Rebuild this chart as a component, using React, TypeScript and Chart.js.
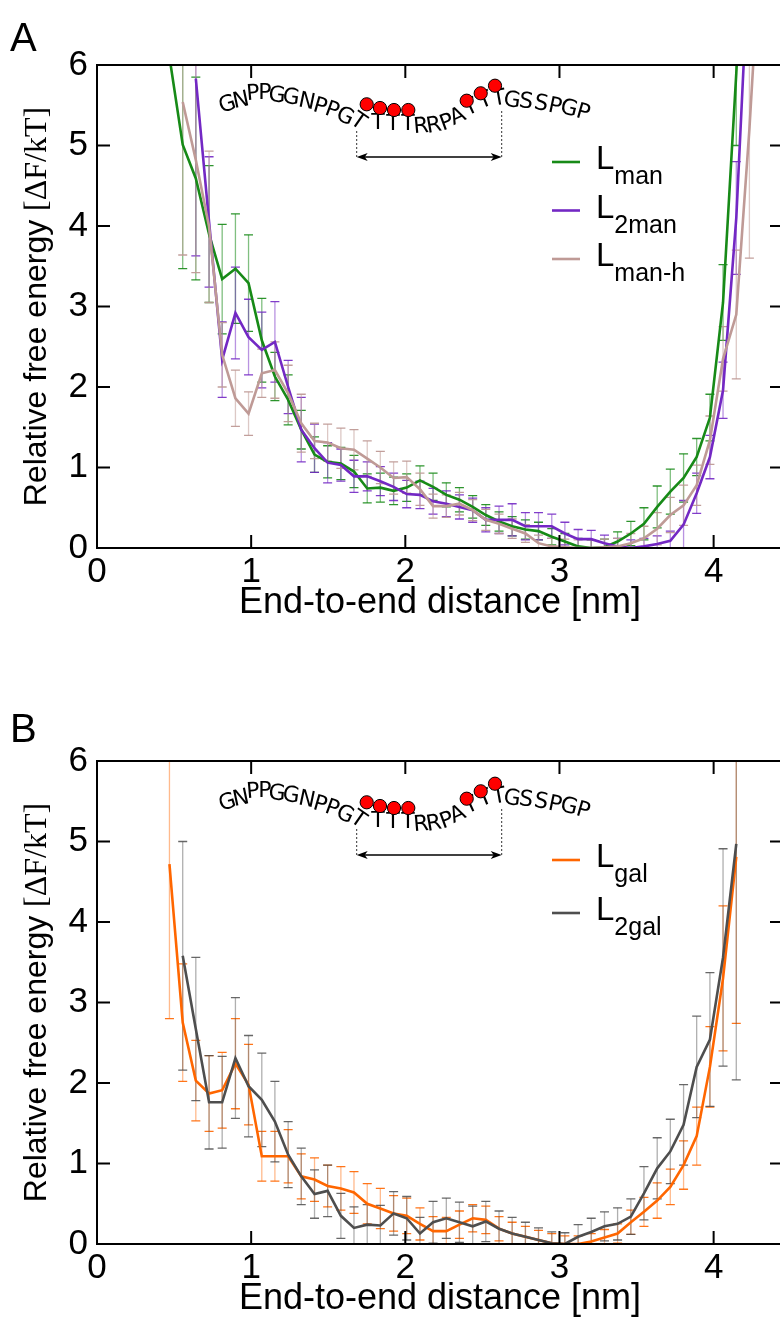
import React, { useEffect, useRef } from "react";
import { Chart, registerables } from "chart.js";

Chart.register(...registerables);

// ---------------- data ----------------
// bin centres of the end-to-end distance histogram [nm]
const distance = [
  0.470, 0.556, 0.641, 0.727, 0.812, 0.898, 0.983, 1.069, 1.154, 1.240,
  1.325, 1.411, 1.496, 1.582, 1.667, 1.753, 1.838, 1.924, 2.009, 2.095,
  2.180, 2.266, 2.351, 2.437, 2.522, 2.608, 2.693, 2.779, 2.864, 2.950,
  3.035, 3.121, 3.206, 3.292, 3.377, 3.463, 3.548, 3.634, 3.719, 3.805,
  3.890, 3.976, 4.061, 4.147, 4.232, 4.318,
];

// Panel A
const manEnergy = [
  6.1, 5.01, 4.59, 3.9, 3.34, 3.47, 3.29, 2.58, 2.13, 1.84,
  1.47, 1.16, 1.07, 1.05, 0.95, 0.74, 0.75, 0.71, 0.75, 0.84,
  0.76, 0.66, 0.60, 0.51, 0.41, 0.33, 0.27, 0.23, 0.21, 0.14,
  0.08, 0.02, 0.0, 0.01, 0.08, 0.18, 0.30, 0.51, 0.70, 0.87,
  1.13, 1.62, 3.05, 5.9, 9.0, null,
];
const manError = [
  null, 1.54, 1.26, 0.85, 0.68, 0.68, 0.6, 0.52, 0.3, 0.31,
  0.24, 0.22, 0.2, 0.2, 0.2, 0.18, 0.18, 0.17, 0.17, 0.18,
  0.17, 0.15, 0.15, 0.14, 0.13, 0.12, 0.12, 0.12, 0.11, 0.1,
  0.1, 0.1, 0.1, 0.1, 0.12, 0.15, 0.2, 0.26, 0.28, 0.3,
  0.23, 0.29, 0.47, 0.9, 1.5, null,
];
const twoManEnergy = [
  null, null, 5.83, 4.05, 2.34, 2.92, 2.62, 2.46, 2.56, 2.0,
  1.47, 1.24, 1.06, 1.03, 0.89, 0.89, 0.83, 0.76, 0.67, 0.66,
  0.58, 0.55, 0.51, 0.47, 0.35, 0.35, 0.35, 0.27, 0.27, 0.27,
  0.18, 0.11, 0.11, 0.06, 0.02, 0.0, 0.02, 0.05, 0.09, 0.29,
  0.68, 1.13, 1.96, 4.1, 7.5, null,
];
const twoManError = [
  null, null, 2.2, 0.81, 0.47, 0.57, 0.47, 0.47, 0.5, 0.33,
  0.4, 0.3, 0.25, 0.2, 0.2, 0.18, 0.18, 0.17, 0.17, 0.17,
  0.16, 0.16, 0.15, 0.15, 0.15, 0.17, 0.2, 0.17, 0.17, 0.15,
  0.14, 0.12, 0.11, 0.1, 0.1, 0.1, 0.1, 0.1, 0.12, 0.3,
  0.25, 0.27, 0.35, 0.7, 1.2, null,
];
const manHEnergy = [
  null, 5.54, 4.82, 3.99, 2.40, 1.86, 1.67, 2.17, 2.21, 1.92,
  1.55, 1.33, 1.31, 1.24, 1.22, 1.11, 1.0, 0.87, 0.88, 0.73,
  0.52, 0.52, 0.55, 0.47, 0.35, 0.30, 0.24, 0.18, 0.06, 0.02,
  0.01, 0.0, 0.0, 0.01, 0.02, 0.06, 0.12, 0.24, 0.41, 0.53,
  0.78, 1.34, 2.35, 2.9, 5.2, 8.0,
];
const manHError = [
  null, 1.9, 1.4, 0.94, 0.4, 0.35, 0.27, 0.3, 0.35, 0.35,
  0.36, 0.22, 0.23, 0.25, 0.25, 0.22, 0.2, 0.2, 0.2, 0.2,
  0.15, 0.14, 0.14, 0.13, 0.13, 0.12, 0.12, 0.11, 0.1, 0.1,
  0.1, 0.1, 0.1, 0.1, 0.1, 0.12, 0.15, 0.2, 0.22, 0.25,
  0.25, 0.3, 0.4, 0.8, 1.6, 2.0,
];

// Panel B
const galEnergy = [
  4.72, 2.75, 2.03, 1.87, 1.91, 2.24, 1.98, 1.09, 1.09, 1.09,
  0.84, 0.80, 0.72, 0.69, 0.64, 0.50, 0.44, 0.38, 0.35, 0.25,
  0.16, 0.16, 0.24, 0.32, 0.30, 0.19, 0.13, 0.09, 0.05, 0.01,
  0.0, 0.0, 0.03, 0.08, 0.13, 0.27, 0.40, 0.54, 0.71, 0.98,
  1.34, 2.2, 3.3, 4.81, null, null,
];
const galError = [
  1.92, 0.73, 0.5, 0.47, 0.47, 0.56, 0.5, 0.31, 0.31, 0.33,
  0.28, 0.27, 0.26, 0.27, 0.26, 0.25, 0.25, 0.22, 0.22, 0.2,
  0.18, 0.17, 0.17, 0.17, 0.17, 0.15, 0.14, 0.13, 0.12, 0.12,
  0.1, 0.1, 0.1, 0.1, 0.12, 0.15, 0.18, 0.22, 0.22, 0.3,
  0.36, 0.5, 0.9, 2.07, null, null,
];
const twoGalEnergy = [
  null, 3.58, 2.67, 1.76, 1.76, 2.31, 1.96, 1.79, 1.52, 1.11,
  0.84, 0.62, 0.66, 0.35, 0.20, 0.24, 0.23, 0.38, 0.32, 0.13,
  0.27, 0.32, 0.27, 0.22, 0.28, 0.19, 0.13, 0.09, 0.05, 0.01,
  0.0, 0.09, 0.15, 0.22, 0.25, 0.34, 0.63, 0.94, 1.15, 1.48,
  2.2, 2.54, 3.56, 4.97, null, null,
];
const twoGalError = [
  null, 1.42, 0.89, 0.58, 0.57, 0.75, 0.63, 0.58, 0.5, 0.41,
  0.35, 0.3, 0.32, 0.28, 0.26, 0.25, 0.25, 0.27, 0.27, 0.2,
  0.26, 0.25, 0.25, 0.25, 0.25, 0.22, 0.2, 0.18, 0.15, 0.14,
  0.14, 0.15, 0.17, 0.18, 0.2, 0.22, 0.33, 0.38, 0.4, 0.5,
  0.63, 0.83, 1.35, 2.93, null, null,
];

const xTickValues = [0, 1, 2, 3, 4];
const yTickValues = [0, 1, 2, 3, 4, 5, 6];
const X_MIN = 0;
const X_MAX = 4.45;
const Y_MIN = 0;
const Y_MAX = 6;

const xAxisTitle = "End-to-end distance [nm]";
const yAxisTitleMain = "Relative free energy";
const yAxisTitleUnit = "[ΔF/kT]";
const peptideSequence = "GNPPGGNPPGTTTTRRPATTTGSSPGP";
const legendMain = "L";
const subscriptsA = ["man", "2man", "man-h"];
const subscriptsB = ["gal", "2gal"];

// ---------------- styling / layout ----------------
const SANS = "'Liberation Sans', Arial, Helvetica, sans-serif";
const SERIF = "'Liberation Serif', 'Times New Roman', serif";
const SEQ_FONT = "'DejaVu Sans', sans-serif";

const CANVAS_W = 786;
const CANVAS_H = 660;

// sequence letter layout relative to the chart area's top-left: [dx, dy, rotation deg]
const seqLayout: [number, number, number][] = [
  [130.5, 40, -18], [144, 36, -12], [156, 29, -5], [168, 28, 0], [180, 31, 5],
  [194, 33, 8], [209.7, 37, 12], [223, 42, 16], [235, 46, 20], [248, 52, 25],
  [261, 57, 35], [281, 58, 0], [296, 59, 0], [311, 59, 0], [324, 62, -5],
  [337, 61, -10], [350, 58, -20], [361, 52, -25], [374, 43, -25], [388, 36, -22],
  [402, 34, -10], [415, 36, 8], [429, 37, 8], [444, 39, 10], [458, 42, 12],
  [472, 44, 14], [486, 48, 16],
];
const sugarLayout: [number, number][] = [
  [269.7, 39.3], [283, 43], [297, 45], [311.3, 45], [369.7, 35.7], [383.7, 28.3], [398, 20.7],
];

function toPoints(values: (number | null)[], errors: (number | null)[]) {
  const pts: { x: number; y: number; err: number }[] = [];
  distance.forEach((x, i) => {
    const y = values[i];
    if (y !== null && y !== undefined) pts.push({ x, y, err: errors[i] ?? 0 });
  });
  return pts;
}

function makeDataset(label: string, sub: string, values: any, errors: any, color: string, errColor: string, capColor: string, order: number) {
  return {
    label,
    sub,
    data: toPoints(values, errors),
    borderColor: color,
    backgroundColor: color,
    borderWidth: 2.6,
    pointRadius: 0,
    tension: 0,
    fill: false,
    errColor,
    capColor,
    order,
  } as any;
}

const decorPlugin = {
  id: "decor",
  beforeDatasetsDraw(chart: any) {
    const { ctx, chartArea: a, scales } = chart;
    const ys = scales.y;
    ctx.save();
    ctx.beginPath();
    ctx.rect(a.left, a.top, a.right - a.left, a.bottom - a.top);
    ctx.clip();
    const idx = chart.data.datasets.map((_: any, i: number) => i);
    idx.sort((p: number, q: number) => chart.data.datasets[q].order - chart.data.datasets[p].order);
    idx.forEach((i: number) => {
      const ds = chart.data.datasets[i];
      const meta = chart.getDatasetMeta(i);
      ds.data.forEach((p: any, j: number) => {
        const el = meta.data[j];
        if (!el || !p.err) return;
        const x = el.x;
        const yt = ys.getPixelForValue(p.y + p.err);
        const yb = ys.getPixelForValue(p.y - p.err);
        ctx.lineWidth = 1.3;
        ctx.strokeStyle = ds.errColor;
        ctx.beginPath();
        ctx.moveTo(x, yt);
        ctx.lineTo(x, yb);
        ctx.stroke();
        ctx.strokeStyle = ds.capColor;
        ctx.beginPath();
        ctx.moveTo(x - 4.5, yt);
        ctx.lineTo(x + 4.5, yt);
        ctx.moveTo(x - 4.5, yb);
        ctx.lineTo(x + 4.5, yb);
        ctx.stroke();
      });
    });
    ctx.restore();
  },
  afterDraw(chart: any, _args: any, opts: any) {
    const { ctx, chartArea: a, scales } = chart;
    const xs = scales.x;
    const ys = scales.y;
    ctx.save();
    // frame
    ctx.strokeStyle = "#000";
    ctx.lineWidth = 2;
    ctx.strokeRect(a.left, a.top, a.right - a.left, a.bottom - a.top);
    // inward ticks on all sides
    const TL = 13;
    ctx.beginPath();
    xTickValues.forEach((v) => {
      const px = xs.getPixelForValue(v);
      ctx.moveTo(px, a.bottom);
      ctx.lineTo(px, a.bottom - TL);
      ctx.moveTo(px, a.top);
      ctx.lineTo(px, a.top + TL);
    });
    yTickValues.forEach((v) => {
      const py = ys.getPixelForValue(v);
      ctx.moveTo(a.left, py);
      ctx.lineTo(a.left + TL, py);
      ctx.moveTo(a.right, py);
      ctx.lineTo(a.right - TL, py);
    });
    ctx.stroke();

    // y axis title (sans + serif unit)
    ctx.save();
    const cy = (a.top + a.bottom) / 2;
    ctx.translate(46, cy);
    ctx.rotate(-Math.PI / 2);
    ctx.fillStyle = "#000";
    ctx.textBaseline = "alphabetic";
    ctx.textAlign = "left";
    ctx.font = `32px ${SANS}`;
    const w1 = ctx.measureText(yAxisTitleMain + " ").width;
    ctx.font = `32px ${SERIF}`;
    const w2 = ctx.measureText(yAxisTitleUnit).width;
    const start = -(w1 + w2) / 2;
    ctx.font = `32px ${SANS}`;
    ctx.fillText(yAxisTitleMain + " ", start, 0);
    ctx.font = `32px ${SERIF}`;
    ctx.fillText(yAxisTitleUnit, start + w1, 0);
    ctx.restore();

    // panel letter
    ctx.fillStyle = "#000";
    ctx.font = `40px ${SANS}`;
    ctx.textAlign = "left";
    ctx.textBaseline = "alphabetic";
    ctx.fillText(opts.letter, 10, opts.letterBaseline);

    // legend
    chart.data.datasets.forEach((ds: any, i: number) => {
      const ly = a.top + opts.legendTop + i * opts.legendGap;
      ctx.strokeStyle = ds.borderColor;
      ctx.lineWidth = 2.6;
      ctx.beginPath();
      ctx.moveTo(a.left + 455, ly);
      ctx.lineTo(a.left + 483, ly);
      ctx.stroke();
      ctx.fillStyle = "#000";
      ctx.font = `33px ${SANS}`;
      ctx.fillText(legendMain, a.left + 499, ly + 7);
      const lw = ctx.measureText(legendMain).width;
      ctx.font = `25px ${SANS}`;
      ctx.fillText(ds.sub, a.left + 499 + lw, ly + 22);
    });

    // peptide inset
    const ox = a.left;
    const oy = a.top + (opts.insetShift || 0);
    ctx.fillStyle = "#000";
    ctx.font = `22px ${SEQ_FONT}`;
    ctx.textAlign = "center";
    ctx.textBaseline = "middle";
    peptideSequence.split("").forEach((ch, i) => {
      const [dx, dy, rot] = seqLayout[i];
      ctx.save();
      ctx.translate(ox + dx, oy + dy);
      ctx.rotate((rot * Math.PI) / 180);
      ctx.fillText(ch, 0, 0);
      ctx.restore();
    });
    sugarLayout.forEach(([dx, dy]) => {
      ctx.beginPath();
      ctx.arc(ox + dx, oy + dy, 6.6, 0, Math.PI * 2);
      ctx.fillStyle = "#ff0000";
      ctx.fill();
      ctx.lineWidth = 1;
      ctx.strokeStyle = "#000";
      ctx.stroke();
    });
    // dashed guides
    ctx.setLineDash([2, 2]);
    ctx.lineWidth = 1;
    ctx.strokeStyle = "#333";
    ctx.beginPath();
    ctx.moveTo(ox + 259.7, oy + 66);
    ctx.lineTo(ox + 259.7, oy + 92);
    ctx.moveTo(ox + 404.7, oy + 46);
    ctx.lineTo(ox + 404.7, oy + 92);
    ctx.stroke();
    ctx.setLineDash([]);
    // double arrow
    const ay = oy + 92;
    const ax1 = ox + 259.7;
    const ax2 = ox + 404.7;
    ctx.strokeStyle = "#000";
    ctx.lineWidth = 1.6;
    ctx.beginPath();
    ctx.moveTo(ax1 + 4, ay);
    ctx.lineTo(ax2 - 4, ay);
    ctx.stroke();
    ctx.fillStyle = "#000";
    ctx.beginPath();
    ctx.moveTo(ax1, ay);
    ctx.lineTo(ax1 + 11, ay - 4);
    ctx.lineTo(ax1 + 8, ay);
    ctx.lineTo(ax1 + 11, ay + 4);
    ctx.closePath();
    ctx.fill();
    ctx.beginPath();
    ctx.moveTo(ax2, ay);
    ctx.lineTo(ax2 - 11, ay - 4);
    ctx.lineTo(ax2 - 8, ay);
    ctx.lineTo(ax2 - 11, ay + 4);
    ctx.closePath();
    ctx.fill();
    ctx.restore();
  },
};

function makeConfig(letter: string, letterBaseline: number, datasets: any[], legendTop: number, legendGap: number, insetShift: number) {
  return {
    type: "line",
    data: { datasets },
    plugins: [decorPlugin],
    options: {
      responsive: false,
      animation: false,
      events: [],
      layout: { padding: { top: 65, right: 3, bottom: 0, left: 0 } },
      plugins: {
        legend: { display: false },
        tooltip: { enabled: false },
        decor: { letter, letterBaseline, legendTop, legendGap, insetShift },
      },
      scales: {
        x: {
          type: "linear",
          min: X_MIN,
          max: X_MAX,
          afterFit: (s: any) => {
            s.height = 112;
          },
          grid: { display: false, drawTicks: false },
          border: { display: false },
          ticks: {
            stepSize: 1,
            includeBounds: false,
            autoSkip: false,
            maxRotation: 0,
            padding: 3,
            color: "#000",
            font: { family: SANS, size: 35 },
          },
          title: {
            display: true,
            text: xAxisTitle,
            color: "#000",
            font: { family: SANS, size: 36 },
            padding: { top: 0, bottom: 35 },
          },
        },
        y: {
          type: "linear",
          min: Y_MIN,
          max: Y_MAX,
          afterFit: (s: any) => {
            s.width = 97;
          },
          grid: { display: false, drawTicks: false },
          border: { display: false },
          ticks: {
            stepSize: 1,
            autoSkip: false,
            padding: 9,
            color: "#000",
            font: { family: SANS, size: 35 },
          },
          title: { display: false },
        },
      },
    },
  } as any;
}

function Panel({ which, top }: { which: "A" | "B"; top: number }) {
  const ref = useRef<HTMLCanvasElement>(null);
  useEffect(() => {
    let datasets: any[];
    let config: any;
    if (which === "A") {
      datasets = [
        makeDataset("L_man", subscriptsA[0], manEnergy, manError, "#178a17", "rgba(23,138,23,0.55)", "rgba(23,138,23,0.9)", 2),
        makeDataset("L_2man", subscriptsA[1], twoManEnergy, twoManError, "#7328c4", "rgba(115,40,196,0.5)", "rgba(115,40,196,0.9)", 1),
        makeDataset("L_man-h", subscriptsA[2], manHEnergy, manHError, "#bf9a96", "rgba(191,154,150,0.55)", "rgba(191,154,150,0.95)", 0),
      ];
      config = makeConfig("A", 51, datasets, 97, 48.5, 0);
    } else {
      datasets = [
        makeDataset("L_gal", subscriptsB[0], galEnergy, galError, "#ff6600", "rgba(255,102,0,0.45)", "rgba(255,102,0,0.9)", 1),
        makeDataset("L_2gal", subscriptsB[1], twoGalEnergy, twoGalError, "#4e4e4e", "rgba(78,78,78,0.45)", "rgba(78,78,78,0.85)", 0),
      ];
      config = makeConfig("B", 46, datasets, 99, 53, 2);
    }
    const chart = new Chart(ref.current as HTMLCanvasElement, config);
    return () => chart.destroy();
  }, [which]);
  return (
    <canvas
      ref={ref}
      width={CANVAS_W}
      height={CANVAS_H}
      style={{ position: "absolute", left: 0, top, width: CANVAS_W, height: CANVAS_H, display: "block" }}
    />
  );
}

export default function App() {
  return (
    <div
      style={{
        position: "absolute",
        left: 0,
        top: 0,
        width: 780,
        height: 1320,
        overflow: "hidden",
        background: "#ffffff",
      }}
    >
      <Panel which="A" top={0} />
      <Panel which="B" top={696} />
    </div>
  );
}
